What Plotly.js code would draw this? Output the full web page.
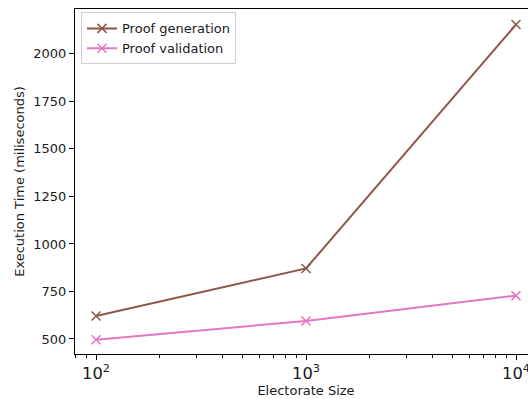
<!DOCTYPE html>
<html><head><meta charset="utf-8">
<script src="https://cdn.plot.ly/plotly-3.0.1.min.js"></script>
<style>html,body{margin:0;padding:0;overflow:hidden;background:#fff}#chart{width:548px;height:399px}</style>
</head><body><div id="chart"></div>
<script>
const electorateSize = [100, 1000, 10000];
const proofGeneration = [621, 871, 2154];
const proofValidation = [496, 595, 728];
const seriesNames = ["Proof generation", "Proof validation"];

const font = {family: "DejaVu Sans", size: 13, color: "#1a1a1a"};
const traces = [
  {x: electorateSize, y: proofGeneration, name: seriesNames[0], type: "scatter", mode: "lines+markers",
   line: {color: "#8c564b", width: 2}, marker: {symbol: "x-thin", size: 9, line: {color: "#8c564b", width: 1.5}}},
  {x: electorateSize, y: proofValidation, name: seriesNames[1], type: "scatter", mode: "lines+markers",
   line: {color: "#e377c2", width: 2}, marker: {symbol: "x-thin", size: 9, line: {color: "#e377c2", width: 1.5}}}
];
const layout = {
  width: 548, height: 399,
  margin: {l: 75, r: 11, t: 9, b: 45},
  paper_bgcolor: "#fff", plot_bgcolor: "#fff",
  font: font,
  showlegend: true,
  legend: {x: 0.013, y: 0.99, xanchor: "left", yanchor: "top", bgcolor: "rgba(255,255,255,0.8)",
           bordercolor: "#d0d0d0", borderwidth: 1, font: {family: "DejaVu Sans", size: 13, color: "#1a1a1a"},
           tracegroupgap: 0, itemwidth: 30},
  xaxis: {type: "log", range: [Math.log10(79.4), Math.log10(12590)], dtick: 1, exponentformat: "power",
          showgrid: false, zeroline: false, showline: true, mirror: true, linecolor: "#000", linewidth: 1,
          ticks: "outside", ticklen: 5, tickcolor: "#000",
          minor: {ticks: "outside", ticklen: 3, tickcolor: "#000", dtick: "D1", showgrid: false},
          title: {text: "Electorate Size", font: font, standoff: 3}},
  yaxis: {range: [421, 2236], tickvals: [500, 750, 1000, 1250, 1500, 1750, 2000],
          showgrid: false, zeroline: false, showline: true, mirror: true, linecolor: "#000", linewidth: 1,
          ticks: "outside", ticklen: 5, tickcolor: "#000",
          title: {text: "Execution Time (miliseconds)", font: font, standoff: 5}}
};
Plotly.newPlot("chart", traces, layout, {displayModeBar: false, staticPlot: true});
</script></body></html>
